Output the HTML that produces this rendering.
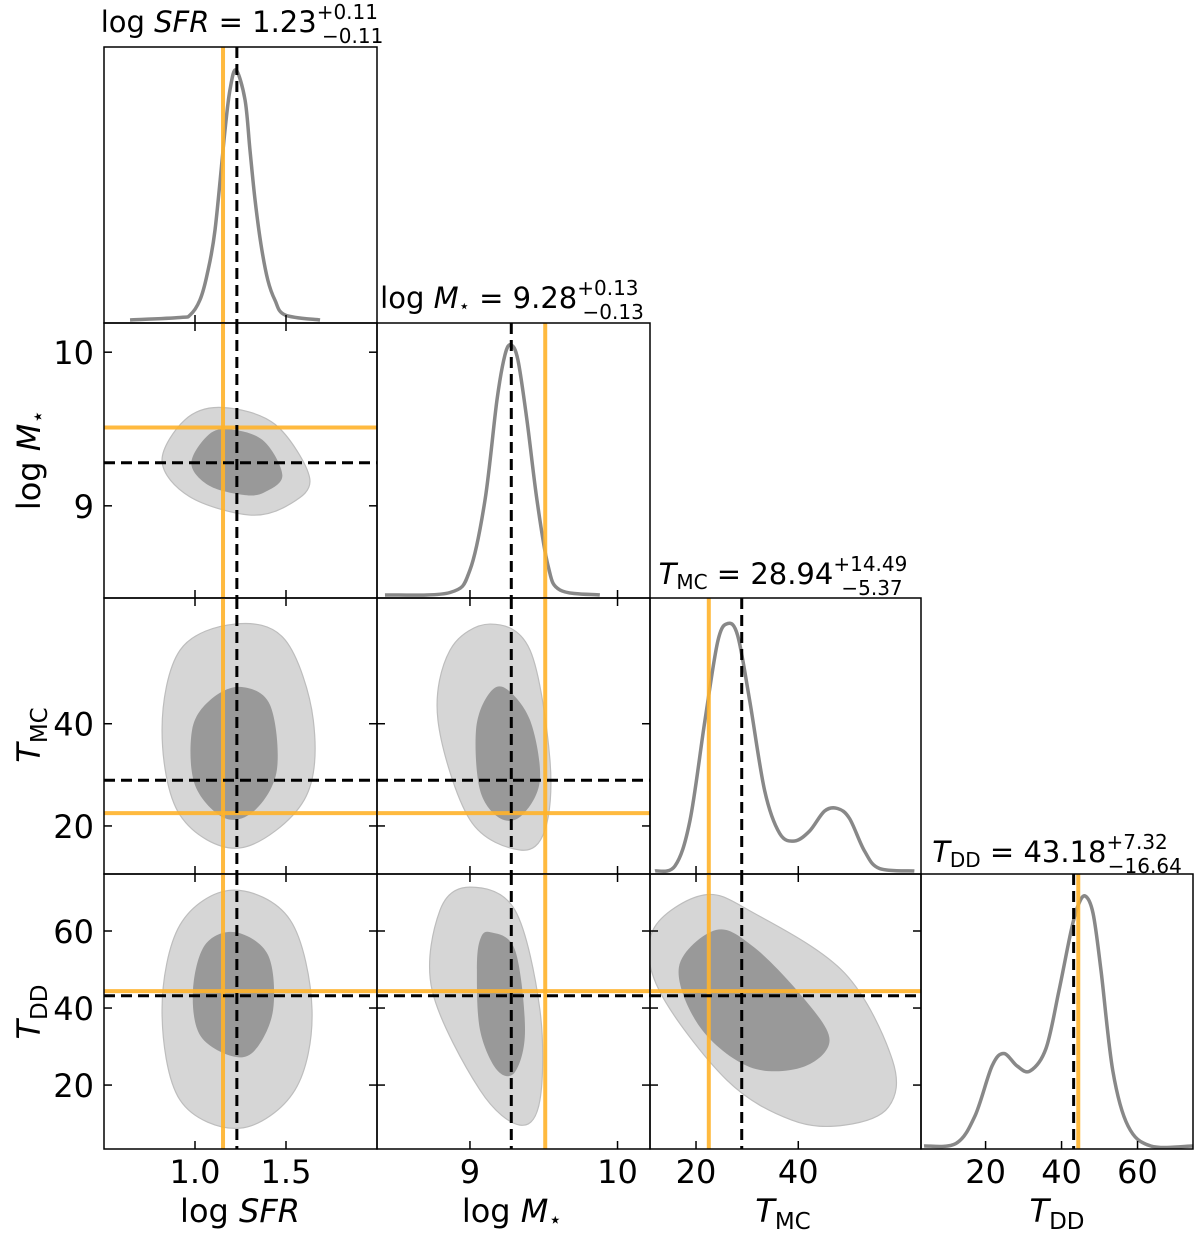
<!DOCTYPE html>
<html><head><meta charset="utf-8"><style>
html,body{margin:0;padding:0;background:#fff}
svg{display:block;font-family:"DejaVu Sans","Liberation Sans",sans-serif}
</style></head><body>
<svg id="fig" width="1200" height="1239" viewBox="0 0 1200 1239" xmlns="http://www.w3.org/2000/svg">
<g id="marks"></g>
<g id="texts" font-size="32" fill="#000">
  <text x="242" y="32" font-size="29" text-anchor="middle">log <tspan font-style="italic">SFR</tspan> = 1.23<tspan font-size="20" dy="-13">+0.11</tspan><tspan font-size="20" dx="-56" dy="24">−0.11</tspan></text>
  <text x="512" y="308" font-size="29" text-anchor="middle">log <tspan font-style="italic">M</tspan><tspan font-size="18" dy="4">⋆</tspan><tspan dy="-4"> = 9.28</tspan><tspan font-size="20" dy="-13">+0.13</tspan><tspan font-size="20" dx="-56" dy="24">−0.13</tspan></text>
  <text x="783" y="584" font-size="29" text-anchor="middle"><tspan font-style="italic">T</tspan><tspan font-size="20" dy="5">MC</tspan><tspan dy="-5"> = 28.94</tspan><tspan font-size="20" dy="-13">+14.49</tspan><tspan font-size="20" dx="-66" dy="24">−5.37</tspan></text>
  <text x="1057" y="862" font-size="29" text-anchor="middle"><tspan font-style="italic">T</tspan><tspan font-size="20" dy="5">DD</tspan><tspan dy="-5"> = 43.18</tspan><tspan font-size="20" dy="-13">+7.32</tspan><tspan font-size="20" dx="-60" dy="24">−16.64</tspan></text>
  <text x="240" y="1222" text-anchor="middle">log <tspan font-style="italic">SFR</tspan></text>
  <text x="512" y="1222" text-anchor="middle">log <tspan font-style="italic">M</tspan><tspan font-size="22" dy="5">⋆</tspan></text>
  <text x="783" y="1222" text-anchor="middle"><tspan font-style="italic">T</tspan><tspan font-size="23" dy="7">MC</tspan></text>
  <text x="1057" y="1222" text-anchor="middle"><tspan font-style="italic">T</tspan><tspan font-size="23" dy="7">DD</tspan></text>
  <text transform="translate(40,460) rotate(-90)" text-anchor="middle">log <tspan font-style="italic">M</tspan><tspan font-size="22" dy="5">⋆</tspan></text>
  <text transform="translate(40,735) rotate(-90)" text-anchor="middle"><tspan font-style="italic">T</tspan><tspan font-size="23" dy="7">MC</tspan></text>
  <text transform="translate(40,1012) rotate(-90)" text-anchor="middle"><tspan font-style="italic">T</tspan><tspan font-size="23" dy="7">DD</tspan></text>
</g>
</svg>
<script>
// ---- data ----
const paramNames = ['logsfr','logm','tmc','tdd'];
const truthValues = [1.23, 9.28, 28.94, 43.18];
const refValues = [1.154, 9.51, 22.5, 44.4];
const ticksSFR = [1.0, 1.5];
const ticksM = [9, 10];
const ticksTMC = [20, 40];
const ticksTDD = [20, 40, 60];
const tickLabelsSFR = ['1.0','1.5'];
const tickLabelsM = ['9','10'];
const tickLabelsTMC = ['20','40'];
const tickLabelsTDD = ['20','40','60'];
// 1D marginals: x values & normalized density
const sfrX = [0.643,0.918,0.973,1.027,1.066,1.11,1.165,1.192,1.225,1.275,1.302,1.33,1.363,1.40,1.439,1.495,1.687];
const sfrD = [0,0.01,0.02,0.08,0.18,0.36,0.76,0.92,1.0,0.88,0.68,0.48,0.30,0.16,0.08,0.02,0];
const mX = [8.424,8.865,9.0,9.102,9.183,9.237,9.278,9.325,9.386,9.454,9.528,9.61,9.88];
const mD = [0,0.01,0.10,0.38,0.78,0.96,1.0,0.94,0.70,0.38,0.12,0.02,0];
const tmcX = [11.98,15.88,18.8,21.73,24.27,26.22,28.17,30.51,33.44,36.37,39.29,42.22,45.15,47.68,50.02,52.95,55.88,62.7];
const tmcD = [0,0.02,0.20,0.60,0.92,0.99,0.94,0.68,0.32,0.15,0.12,0.16,0.24,0.25,0.21,0.08,0.01,0];
const tddX = [3.8,12.2,17.2,21.7,24.8,28.3,31.7,35.9,39.3,42.5,44.3,46.2,48.3,50.4,53.5,57.5,63.5,74.6];
const tddD = [0,0.01,0.12,0.32,0.37,0.32,0.30,0.39,0.62,0.86,0.96,1.0,0.93,0.70,0.30,0.08,0,0];
// 2D contours: [x,y] data points, outer (95%) & inner (68%)
const sfrMOuter = [[0.819,9.29],[0.945,9.56],[1.148,9.64],[1.44,9.53],[1.63,9.18],[1.52,9.01],[1.30,8.94],[0.97,9.06]];
const sfrMInner = [[0.98,9.27],[1.055,9.44],[1.165,9.50],[1.37,9.43],[1.48,9.20],[1.385,9.09],[1.275,9.07],[1.08,9.13]];
const sfrTmcOuter = [[1.22,59.5],[1.495,56.4],[1.65,40.7],[1.60,25.1],[1.247,15.7],[0.918,22.1],[0.819,38.8],[0.918,54.4]];
const sfrTmcInner = [[1.247,47.2],[1.412,43.7],[1.45,31.0],[1.33,23.1],[1.165,21.5],[1.0,28.0],[0.984,38.8],[1.082,44.6]];
const mTmcOuter = [[9.136,59.5],[9.407,54.4],[9.542,32.9],[9.508,19.2],[9.339,15.3],[9.0,21.2],[8.783,40.7],[8.865,54.4]];
const mTmcInner = [[9.237,47.0],[9.407,40.7],[9.474,29.0],[9.352,22.1],[9.203,21.5],[9.068,27.0],[9.041,38.8],[9.122,45.6]];
const sfrTddOuter = [[1.203,70.6],[1.522,62.9],[1.643,39.5],[1.549,18.7],[1.247,8.8],[0.918,16.1],[0.819,39.5],[0.918,61.6]];
const sfrTddInner = [[1.22,59.7],[1.401,53.8],[1.429,39.5],[1.33,29.1],[1.203,27.5],[1.027,33.0],[0.989,44.7],[1.055,56.4]];
const mTddOuter = [[9.0,71.4],[9.305,65.4],[9.474,39.5],[9.474,16.1],[9.339,9.6],[9.068,18.7],[8.743,44.7],[8.797,65.4]];
const mTddInner = [[9.136,59.7],[9.305,55.1],[9.373,34.3],[9.305,23.4],[9.183,23.9],[9.068,34.3],[9.047,49.9],[9.068,57.7]];
const tmcTddOuter = [[21.54,69.35],[31.29,64.67],[49.05,49.09],[58.41,26.49],[57.63,14.28],[49.05,9.6],[38.71,10.9],[26.02,21.29],[12.76,44.67],[11.59,60.25]];
const tmcTddInner = [[23.88,60.25],[31.29,55.84],[40.85,42.85],[46.12,31.68],[40.85,24.67],[30.51,24.67],[20.76,35.06],[16.66,50.64]];

// ---- layout ----
const colX = [104,377,650,921,1193];
const rowY = [47,323,598,874,1149];
const ranges = [[0.5,2.0],[8.37,10.22],[11.0,64.0],[3.0,74.6]];
const yRanges = [null,[8.40,10.19],[10.6,64.6],[3.4,74.8]];
const allTicks = [ticksSFR,ticksM,ticksTMC,ticksTDD];
const allTickLabels = [tickLabelsSFR,tickLabelsM,tickLabelsTMC,tickLabelsTDD];
const NS='http://www.w3.org/2000/svg';
const G=document.getElementById('marks');
function mk(tag,attrs,parent){const e=document.createElementNS(NS,tag);for(const k in attrs)e.setAttribute(k,attrs[k]);(parent||G).appendChild(e);return e;}
function sx(c,v){const r=ranges[c];return colX[c]+(v-r[0])/(r[1]-r[0])*(colX[c+1]-colX[c]);}
function sy(r,v){const q=yRanges[r];return rowY[r+1]-(v-q[0])/(q[1]-q[0])*(rowY[r+1]-rowY[r]);}
function closedPath(pts){const n=pts.length;let d='M'+pts[0][0]+','+pts[0][1];
  for(let i=0;i<n;i++){const p0=pts[(i-1+n)%n],p1=pts[i],p2=pts[(i+1)%n],p3=pts[(i+2)%n];
    d+=' C'+(p1[0]+(p2[0]-p0[0])/6)+','+(p1[1]+(p2[1]-p0[1])/6)+' '+(p2[0]-(p3[0]-p1[0])/6)+','+(p2[1]-(p3[1]-p1[1])/6)+' '+p2[0]+','+p2[1];}
  return d+'Z';}
function openPath(pts){let d='M'+pts[0][0]+','+pts[0][1];const n=pts.length;
  for(let i=0;i<n-1;i++){const p0=pts[Math.max(i-1,0)],p1=pts[i],p2=pts[i+1],p3=pts[Math.min(i+2,n-1)];
    d+=' C'+(p1[0]+(p2[0]-p0[0])/6)+','+(p1[1]+(p2[1]-p0[1])/6)+' '+(p2[0]-(p3[0]-p1[0])/6)+','+(p2[1]-(p3[1]-p1[1])/6)+' '+p2[0]+','+p2[1];}
  return d;}

const contours = {'1-0':[sfrMOuter,sfrMInner],'2-0':[sfrTmcOuter,sfrTmcInner],'2-1':[mTmcOuter,mTmcInner],
  '3-0':[sfrTddOuter,sfrTddInner],'3-1':[mTddOuter,mTddInner],'3-2':[tmcTddOuter,tmcTddInner]};
const marg = [[sfrX,sfrD],[mX,mD],[tmcX,tmcD],[tddX,tddD]];

for(let r=0;r<4;r++){for(let c=0;c<=r;c++){
  const x0=colX[c],x1=colX[c+1],y0=rowY[r],y1=rowY[r+1];
  const g=mk('g',{});
  
  
  const cid='clip'+r+c;
  const cp=mk('clipPath',{id:cid},g);mk('rect',{x:x0,y:y0,width:x1-x0,height:y1-y0},cp);
  const inner=mk('g',{'clip-path':'url(#'+cid+')'},g);
  if(r===c){
    const [xs,ds]=marg[c];
    const pts=xs.map((v,i)=>[sx(c,v),y1-3-ds[i]*250]);
    const p=mk('path',{d:openPath(pts),fill:'none',stroke:'#888',"stroke-width":3.5},inner);
    
    
  } else {
    const [o,i2]=contours[r+'-'+c];
    const po=mk('path',{d:closedPath(o.map(p=>[sx(c,p[0]),sy(r,p[1])])),fill:'#d6d6d6',stroke:'#bdbdbd','stroke-width':1.2},inner);
    
    
    const pi=mk('path',{d:closedPath(i2.map(p=>[sx(c,p[0]),sy(r,p[1])])),fill:'#999'},inner);
    
    
    const hy=sy(r,refValues[r]);
    const ho=mk('line',{x1:x0,x2:x1,y1:hy,y2:hy,stroke:'#ffb22a','stroke-opacity':0.9,'stroke-width':4},inner);
    
    
  }
  const vx=sx(c,refValues[c]);
  const vo=mk('line',{x1:vx,x2:vx,y1:y0,y2:y1,stroke:'#ffb22a','stroke-opacity':0.9,'stroke-width':4},inner);
  
  
  if(r!==c){const hb=sy(r,truthValues[r]);
    const hl=mk('line',{x1:x0,x2:x1,y1:hb,y2:hb,stroke:'#000','stroke-width':3,'stroke-dasharray':'11,6'},inner);
    
    }
  const bx=sx(c,truthValues[c]);
  const vl=mk('line',{x1:bx,x2:bx,y1:y0,y2:y1,stroke:'#000','stroke-width':3,'stroke-dasharray':'11,6'},inner);
  
  
  mk('rect',{x:x0,y:y0,width:x1-x0,height:y1-y0,fill:'none',stroke:'#000','stroke-width':1.5},g);
  allTicks[c].forEach((t,i)=>{const tx=sx(c,t);
    mk('line',{x1:tx,x2:tx,y1:y1,y2:y1-8,stroke:'#000','stroke-width':1.5},g);
    if(r!==c) mk('line',{x1:tx,x2:tx,y1:y0,y2:y0+8,stroke:'#000','stroke-width':1.5},g);
    if(r===3){const tl=mk('text',{x:tx,y:1183,'font-size':32,'text-anchor':'middle'},g);tl.textContent=allTickLabels[c][i];
      
      }
  });
  if(r!==c){allTicks[r].forEach((t,i)=>{const ty=sy(r,t);
    mk('line',{x1:x0,x2:x0+8,y1:ty,y2:ty,stroke:'#000','stroke-width':1.5},g);
    mk('line',{x1:x1,x2:x1-8,y1:ty,y2:ty,stroke:'#000','stroke-width':1.5},g);
    if(c===0){const tl=mk('text',{x:x0-10,y:ty+12,'font-size':32,'text-anchor':'end'},g);tl.textContent=allTickLabels[r][i];
      
      }
  });}
}}
</script>
</body></html>
